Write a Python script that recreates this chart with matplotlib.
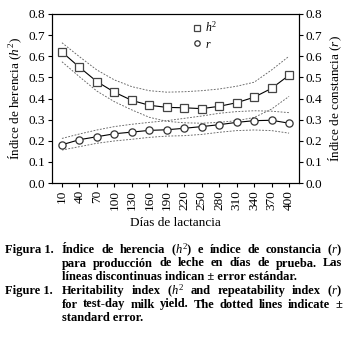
import matplotlib
matplotlib.use("Agg")
import matplotlib.pyplot as plt

plt.rcParams['font.family'] = ['Liberation Serif', 'DejaVu Serif']
plt.rcParams['mathtext.fontset'] = 'custom'
plt.rcParams['mathtext.rm'] = 'Liberation Serif'
plt.rcParams['mathtext.it'] = 'Liberation Serif:italic'
plt.rcParams['mathtext.bf'] = 'Liberation Serif:bold'

# ---- data ----
days = [10, 40, 70, 100, 130, 160, 190, 220, 250, 280, 310, 340, 370, 400]
h2 = [0.620, 0.548, 0.480, 0.430, 0.391, 0.368, 0.358, 0.356, 0.352, 0.363, 0.380, 0.406, 0.448, 0.510]
h2_upper = [0.664, 0.598, 0.535, 0.488, 0.456, 0.437, 0.430, 0.432, 0.437, 0.445, 0.458, 0.477, 0.535, 0.600]
h2_lower = [0.574, 0.503, 0.435, 0.385, 0.346, 0.311, 0.292, 0.285, 0.283, 0.287, 0.295, 0.310, 0.350, 0.410]
r = [0.181, 0.205, 0.219, 0.233, 0.241, 0.249, 0.252, 0.259, 0.267, 0.276, 0.287, 0.295, 0.297, 0.283]
r_upper = [0.211, 0.232, 0.251, 0.267, 0.278, 0.287, 0.295, 0.306, 0.317, 0.330, 0.338, 0.342, 0.340, 0.333]
r_lower = [0.156, 0.172, 0.188, 0.199, 0.207, 0.216, 0.222, 0.224, 0.230, 0.240, 0.248, 0.251, 0.248, 0.236]
yticks = [0.0, 0.1, 0.2, 0.3, 0.4, 0.5, 0.6, 0.7, 0.8]

W, H = 356, 343
fig = plt.figure(figsize=(W / 100, H / 100), dpi=100)
ax = fig.add_axes([52 / W, 1 - 183 / H, 247 / W, 169 / H])

x = list(range(len(days)))
dash = (0, (2.0, 1.6))
gray = '#666666'
for band in (h2_upper, h2_lower, r_upper, r_lower):
    ax.plot(x, band, color=gray, lw=0.65, linestyle=dash)
ax.plot(x, h2, color='black', lw=0.8, marker='s', ms=5.2, mfc='white',
        mec='#444444', mew=0.9, label='$h^2$')
ax.plot(x, r, color='black', lw=0.8, marker='o', ms=5.2, mfc='white',
        mec='#333333', mew=0.9, label='$r$')

ax.set_xlim(-0.57, len(days) - 1 + 0.57)
ax.set_ylim(0, 0.8)
ax.set_xticks(x)
ax.set_xticklabels([str(d) for d in days], rotation=90, fontsize=9.5)
ax.set_yticks(yticks)
ax.set_yticklabels([f'{v:.1f}' for v in yticks], fontsize=9.5)
ax.tick_params(axis='both', direction='out', length=3, width=0.8, pad=2)
ax.set_ylabel('Índice de herencia ($h^2$)', fontsize=9.5, labelpad=3)
ax.set_xlabel('Días de lactancia', fontsize=9.5, labelpad=5)
for s in ax.spines.values():
    s.set_linewidth(0.8)

ax2 = ax.twinx()
ax2.set_ylim(0, 0.8)
ax2.set_yticks(yticks)
ax2.set_yticklabels([f'{v:.1f}' for v in yticks], fontsize=9.5)
ax2.tick_params(axis='y', direction='out', length=3, width=0.8, pad=2)
ax2.set_ylabel('Índice de constancia ($r$)', fontsize=9.5, labelpad=3)

leg = ax.legend(loc='upper left', bbox_to_anchor=(0.53, 1.025), frameon=False,
                fontsize=8.5, handlelength=0.6, handletextpad=0.4,
                labelspacing=0.3, markerscale=0.75)
for h in leg.legend_handles:
    h.set_linestyle('None')

# ---- caption ----
renderer = fig.canvas.get_renderer()
cap_fs = 9.0
x_label = 5 / W
x0 = 62 / W
x1 = 342 / W


def place_line(yc, text, justify, label=None):
    y = 1 - yc / H
    if label:
        fig.text(x_label, y, label, fontsize=cap_fs, fontweight='bold', va='center', ha='left')
    words = text.split(' ')
    if not justify:
        fig.text(x0, y, text, fontsize=cap_fs, fontweight='bold', va='center', ha='left')
        return
    objs = [fig.text(0, y, w, fontsize=cap_fs, fontweight='bold', va='center', ha='left') for w in words]
    widths = [o.get_window_extent(renderer).width / W for o in objs]
    gap = (x1 - x0 - sum(widths)) / (len(words) - 1)
    cx = x0
    for o, w in zip(objs, widths):
        o.set_x(cx)
        cx += w + gap


place_line(250, 'Índice de herencia ($h^2$) e índice de constancia ($r$)', True, 'Figura 1.')
place_line(263.5, 'para producción de leche en días de prueba. Las', True)
place_line(277, 'líneas discontinuas indican ± error estándar.', False)
place_line(291, 'Heritability index ($h^2$ and repeatability index ($r$)', True, 'Figure 1.')
place_line(304.5, 'for test-day milk yield. The dotted lines indicate ±', True)
place_line(318, 'standard error.', False)

fig.savefig('out.png', dpi=100)
